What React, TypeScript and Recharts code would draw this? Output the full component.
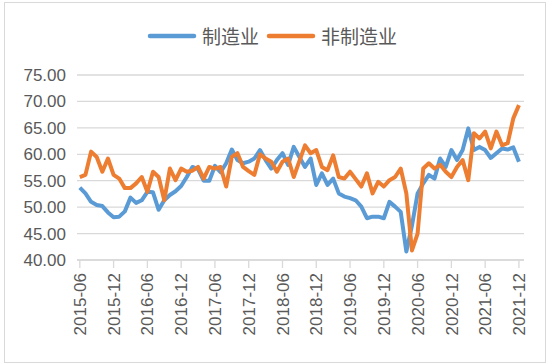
import { LineChart, Line, XAxis, YAxis, CartesianGrid } from 'recharts';

// monthly, 2015-06 .. 2021-12
const manufacturing = [
  53.7, 52.6, 51.0, 50.4, 50.2, 49.0, 48.1, 48.2, 49.2, 51.8, 50.8, 51.3, 52.9, 52.8, 49.5, 51.3,
  52.3, 53.0, 54.0, 55.7, 57.6, 57.2, 55.0, 55.0, 57.8, 56.6, 58.3, 60.9, 58.9, 58.3, 58.6, 59.2,
  60.8, 58.9, 57.3, 58.9, 60.2, 58.0, 61.4, 59.5, 57.6, 59.2, 54.2, 56.4, 54.2, 55.4, 52.6, 52.0,
  51.7, 51.3, 50.1, 47.9, 48.2, 48.2, 47.9, 51.0, 50.1, 49.1, 41.6, 46.5, 52.6, 54.5, 56.1, 55.4,
  59.2, 57.6, 60.8, 58.9, 60.8, 64.9, 60.8, 61.4, 60.8, 59.3, 60.2, 61.1, 60.9, 61.3, 58.6,
];
const nonManufacturing = [
  55.7, 56.1, 60.5, 59.5, 56.7, 59.2, 56.1, 55.4, 53.6, 53.6, 54.5, 55.7, 52.9, 56.7, 55.7, 51.3,
  57.3, 55.1, 57.3, 56.7, 56.9, 57.6, 55.4, 57.6, 57.3, 57.6, 53.9, 59.5, 60.2, 57.6, 56.8, 56.1,
  60.0, 59.2, 58.6, 56.7, 58.6, 59.2, 55.7, 58.7, 61.7, 60.2, 60.8, 57.6, 57.0, 59.8, 55.7, 55.4,
  56.7, 55.3, 53.9, 56.4, 52.6, 54.8, 53.9, 55.1, 55.7, 57.3, 52.6, 41.8, 45.0, 57.3, 58.3, 57.3,
  58.0, 56.7, 55.7, 57.6, 58.9, 55.1, 64.0, 63.0, 64.3, 61.1, 64.3, 61.7, 62.1, 66.8, 69.3,
];
const xTickLabels = [
  '2015-06', '2015-12', '2016-06', '2016-12', '2017-06', '2017-12', '2018-06',
  '2018-12', '2019-06', '2019-12', '2020-06', '2020-12', '2021-06', '2021-12',
];
const yTicks = [40, 45, 50, 55, 60, 65, 70, 75];

const BLUE = '#5B9BD5';
const ORANGE = '#ED7D31';
const TEXT = '#595959';
const GRID = '#d9d9d9';
const FONT = '"Liberation Sans", Arial, sans-serif';

const data = manufacturing.map((v, i) => ({ i, m: v, n: nonManufacturing[i] }));
const xTicks = xTickLabels.map((_, k) => k * 6);

function XTick({ x, y, payload }: any) {
  return (
    <g transform={`translate(${x},${y})`}>
      <text transform="rotate(-90)" textAnchor="end" dy="0.36em" fill={TEXT} fontSize={17} fontFamily={FONT}>
        {xTickLabels[payload.value / 6]}
      </text>
    </g>
  );
}

function LegendBox() {
  const item = (color: string, label: string, left: number) => (
    <div style={{ position: 'absolute', left, top: 0, display: 'flex', alignItems: 'center', height: 24 }}>
      <svg width={50} height={8}>
        <line x1={3} y1={4} x2={47} y2={4} stroke={color} strokeWidth={4.5} strokeLinecap="round" />
      </svg>
      <span style={{ marginLeft: 5, color: TEXT, fontSize: 19, fontFamily: '"Noto Sans CJK SC", sans-serif', lineHeight: '24px' }}>
        {label}
      </span>
    </div>
  );
  return (
    <div style={{ position: 'absolute', left: 0, top: 24, width: 550, height: 24 }}>
      {item(BLUE, '制造业', 147)}
      {item(ORANGE, '非制造业', 266)}
    </div>
  );
}

export default function App() {
  return (
    <div style={{ position: 'absolute', left: 0, top: 0, width: 550, height: 364, background: '#fff' }}>
      <div style={{ position: 'absolute', left: 4, top: 2, width: 540, height: 359, border: `1px solid ${GRID}` }} />
      <LegendBox />
      <LineChart width={550} height={364} data={data} margin={{ top: 75, right: 26, bottom: 14, left: 0 }}>
        <CartesianGrid vertical={false} stroke={GRID} strokeWidth={1.3} />
        <XAxis
          dataKey="i"
          type="number"
          domain={[-0.5, 78.9]}
          ticks={xTicks}
          interval={0}
          height={90}
          tickSize={8}
          tickMargin={5}
          stroke={GRID}
          strokeWidth={1.3}
          tick={<XTick />}
        />
        <YAxis
          domain={[40, 75]}
          ticks={yTicks}
          interval={0}
          width={77}
          axisLine={false}
          tickLine={false}
          tickMargin={5}
          tickFormatter={(v: number) => v.toFixed(2)}
          tick={{ fill: TEXT, fontSize: 17, fontFamily: FONT }}
        />
        <Line type="linear" dataKey="m" stroke={BLUE} strokeWidth={4} dot={false} strokeLinejoin="round" isAnimationActive={false} />
        <Line type="linear" dataKey="n" stroke={ORANGE} strokeWidth={4} dot={false} strokeLinejoin="round" isAnimationActive={false} />
      </LineChart>
    </div>
  );
}
